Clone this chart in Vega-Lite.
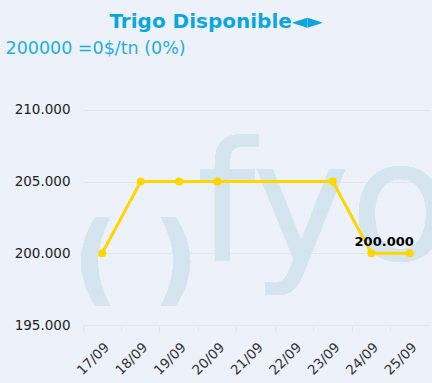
{
  "$schema": "https://vega.github.io/schema/vega-lite/v6.json",
  "autosize": "none",
  "width": 346,
  "height": 251,
  "padding": {"left": 83, "top": 74, "right": 3, "bottom": 58},
  "background": "#EDF1FA",
  "config": {
    "view": {"stroke": null},
    "font": "DejaVu Sans",
    "locale": {"number": {"decimal": ",", "thousands": ".", "grouping": [3], "currency": ["$", ""]}}
  },
  "title": {
    "text": "Trigo Disponible◄►",
    "fontSize": 20,
    "fontWeight": "bold",
    "color": "#0BA6E0",
    "anchor": "middle",
    "frame": "group",
    "dx": -40,
    "offset": 7,
    "font": "DejaVu Sans"
  },
  "data": {
    "values": [
      {"fecha": "17/09", "precio": 200000},
      {"fecha": "18/09", "precio": 205000},
      {"fecha": "19/09", "precio": 205000},
      {"fecha": "20/09", "precio": 205000},
      {"fecha": "23/09", "precio": 205000},
      {"fecha": "24/09", "precio": 200000},
      {"fecha": "25/09", "precio": 200000}
    ]
  },
  "encoding": {
    "x": {
      "field": "fecha",
      "type": "ordinal",
      "scale": {
        "type": "band",
        "domain": ["17/09", "18/09", "19/09", "20/09", "21/09", "22/09", "23/09", "24/09", "25/09"],
        "paddingInner": 0,
        "paddingOuter": 0
      },
      "axis": {
        "title": null,
        "bandPosition": 0,
        "labelAngle": -45,
        "labelFontSize": 13.5,
        "labelColor": "#333333",
        "labelFont": "DejaVu Sans",
        "labelPadding": 9,
        "domainColor": "#E3E6EC",
        "tickColor": "#E3E6EC",
        "tickSize": 6,
        "grid": false
      }
    },
    "y": {
      "field": "precio",
      "type": "quantitative",
      "scale": {"domain": [195000, 212500], "nice": false, "zero": false},
      "axis": {
        "title": "200000 =0$/tn (0%)",
        "titleAngle": 0,
        "titleAlign": "left",
        "titleBaseline": "alphabetic",
        "titleX": -78,
        "titleY": -21,
        "titleFontSize": 17.5,
        "titleFontWeight": "normal",
        "titleColor": "#1EADE6",
        "titleFont": "DejaVu Sans",
        "values": [195000, 200000, 205000, 210000],
        "format": ",.0f",
        "labelFontSize": 13.5,
        "labelColor": "#222222",
        "labelFont": "DejaVu Sans",
        "labelPadding": 13,
        "ticks": false,
        "domain": false,
        "grid": true,
        "gridColor": "#E3E6EC"
      }
    }
  },
  "layer": [
    {
      "mark": {"type": "text", "text": "( )", "fontSize": 100, "fontWeight": "bold", "color": "#D5E5F0", "align": "center", "baseline": "middle", "dx": -5, "dy": 10},
      "encoding": {
        "x": {"datum": "18/09"},
        "y": {"datum": 200000}
      }
    },
    {
      "mark": {"type": "text", "text": "fyo", "fontSize": 165, "color": "#D5E5F0", "align": "left", "baseline": "alphabetic", "dx": 18, "dy": 7},
      "encoding": {
        "x": {"datum": "19/09"},
        "y": {"datum": 200000}
      }
    },
    {
      "mark": {"type": "line", "color": "#FFD700", "strokeWidth": 3}
    },
    {
      "mark": {"type": "point", "filled": true, "opacity": 1, "color": "#FFD700", "size": 64}
    },
    {
      "transform": [{"filter": "datum.fecha == '25/09'"}],
      "mark": {"type": "text", "fontSize": 13, "fontWeight": "bold", "color": "#000000", "align": "right", "baseline": "alphabetic", "dx": 4, "dy": -7},
      "encoding": {
        "text": {"field": "precio", "type": "quantitative", "format": ",.0f"}
      }
    }
  ]
}
